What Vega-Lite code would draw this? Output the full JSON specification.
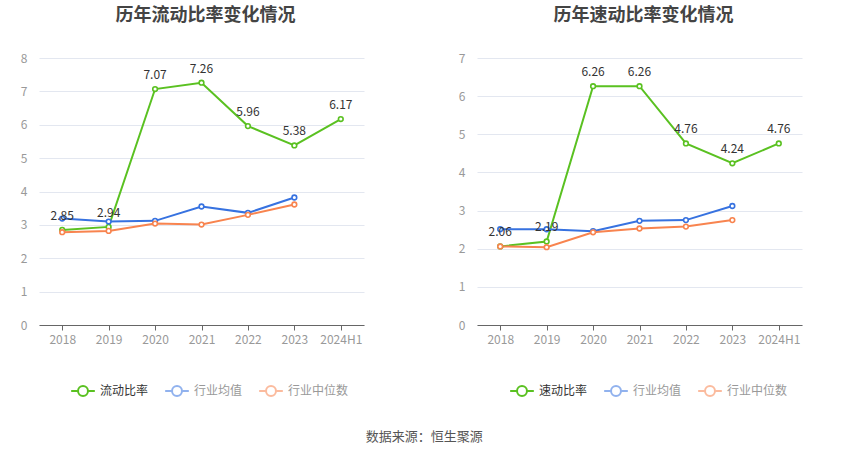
{
  "$schema": "https://vega.github.io/schema/vega-lite/v6.json",
  "description": "Current ratio and quick ratio by year, with industry mean and median.",
  "padding": {"left": 20, "top": 7, "right": 10, "bottom": 6},
  "title": {
    "text": "数据来源：恒生聚源",
    "orient": "bottom",
    "anchor": "middle",
    "fontSize": 13,
    "fontWeight": "normal",
    "color": "#555",
    "offset": 31,
    "dx": 13
  },
  "datasets": {
    "current": [
      {"year": "2018", "series": "流动比率", "value": 2.85},
      {"year": "2019", "series": "流动比率", "value": 2.94},
      {"year": "2020", "series": "流动比率", "value": 7.07},
      {"year": "2021", "series": "流动比率", "value": 7.26},
      {"year": "2022", "series": "流动比率", "value": 5.96},
      {"year": "2023", "series": "流动比率", "value": 5.38},
      {"year": "2024H1", "series": "流动比率", "value": 6.17},
      {"year": "2018", "series": "行业均值", "value": 3.19},
      {"year": "2019", "series": "行业均值", "value": 3.10},
      {"year": "2020", "series": "行业均值", "value": 3.12},
      {"year": "2021", "series": "行业均值", "value": 3.55},
      {"year": "2022", "series": "行业均值", "value": 3.36},
      {"year": "2023", "series": "行业均值", "value": 3.82},
      {"year": "2018", "series": "行业中位数", "value": 2.78},
      {"year": "2019", "series": "行业中位数", "value": 2.82},
      {"year": "2020", "series": "行业中位数", "value": 3.04},
      {"year": "2021", "series": "行业中位数", "value": 3.01},
      {"year": "2022", "series": "行业中位数", "value": 3.30},
      {"year": "2023", "series": "行业中位数", "value": 3.61}
    ],
    "quick": [
      {"year": "2018", "series": "速动比率", "value": 2.06},
      {"year": "2019", "series": "速动比率", "value": 2.19},
      {"year": "2020", "series": "速动比率", "value": 6.26},
      {"year": "2021", "series": "速动比率", "value": 6.26},
      {"year": "2022", "series": "速动比率", "value": 4.76},
      {"year": "2023", "series": "速动比率", "value": 4.24},
      {"year": "2024H1", "series": "速动比率", "value": 4.76},
      {"year": "2018", "series": "行业均值", "value": 2.51},
      {"year": "2019", "series": "行业均值", "value": 2.51},
      {"year": "2020", "series": "行业均值", "value": 2.46},
      {"year": "2021", "series": "行业均值", "value": 2.73},
      {"year": "2022", "series": "行业均值", "value": 2.75},
      {"year": "2023", "series": "行业均值", "value": 3.12},
      {"year": "2018", "series": "行业中位数", "value": 2.06},
      {"year": "2019", "series": "行业中位数", "value": 2.04},
      {"year": "2020", "series": "行业中位数", "value": 2.43},
      {"year": "2021", "series": "行业中位数", "value": 2.53},
      {"year": "2022", "series": "行业中位数", "value": 2.58},
      {"year": "2023", "series": "行业中位数", "value": 2.75}
    ]
  },
  "hconcat": [
    {
      "title": "历年流动比率变化情况",
      "width": 325,
      "height": 267,
      "data": {"name": "current"},
      "encoding": {
        "x": {"field": "year", "type": "ordinal", "scale": {"type": "point", "padding": 0.5}, "title": null},
        "y": {"field": "value", "type": "quantitative", "scale": {"domain": [0, 8]}, "axis": {"values": [0, 1, 2, 3, 4, 5, 6, 7, 8]}, "title": null}
      },
      "layer": [
        {
          "mark": {"type": "line", "strokeWidth": 2, "point": {"filled": false, "fill": "white", "size": 22, "strokeWidth": 1.6}},
          "encoding": {
            "color": {
              "field": "series",
              "type": "nominal",
              "sort": ["流动比率", "行业均值", "行业中位数"],
              "scale": {"domain": ["流动比率", "行业均值", "行业中位数"], "range": ["#5ac121", "#3772e0", "#f8844f"]},
              "legend": {
                "orient": "none",
                "legendX": 31,
                "legendY": 320,
                "direction": "horizontal",
                "title": null,
                "encode": {
                  "labels": {"update": {"fill": {"signal": "datum.value == '流动比率' ? '#333' : '#999'"}}},
                  "symbols": {"update": {"strokeOpacity": {"signal": "datum.value == '流动比率' ? 1 : 0.55"}}}
                }
              }
            }
          }
        },
        {
          "transform": [{"filter": "datum.series == '流动比率'"}],
          "mark": {"type": "text", "dy": -14, "fontSize": 12, "color": "#333"},
          "encoding": {"text": {"field": "value", "type": "quantitative", "format": ".2f"}}
        }
      ]
    },
    {
      "title": "历年速动比率变化情况",
      "width": 325,
      "height": 267,
      "data": {"name": "quick"},
      "encoding": {
        "x": {"field": "year", "type": "ordinal", "scale": {"type": "point", "padding": 0.5}, "title": null},
        "y": {"field": "value", "type": "quantitative", "scale": {"domain": [0, 7]}, "axis": {"values": [0, 1, 2, 3, 4, 5, 6, 7]}, "title": null}
      },
      "layer": [
        {
          "mark": {"type": "line", "strokeWidth": 2, "point": {"filled": false, "fill": "white", "size": 22, "strokeWidth": 1.6}},
          "encoding": {
            "color": {
              "field": "series",
              "type": "nominal",
              "sort": ["速动比率", "行业均值", "行业中位数"],
              "scale": {"domain": ["速动比率", "行业均值", "行业中位数"], "range": ["#5ac121", "#3772e0", "#f8844f"]},
              "legend": {
                "orient": "none",
                "legendX": 32,
                "legendY": 320,
                "direction": "horizontal",
                "title": null,
                "encode": {
                  "labels": {"update": {"fill": {"signal": "datum.value == '速动比率' ? '#333' : '#999'"}}},
                  "symbols": {"update": {"strokeOpacity": {"signal": "datum.value == '速动比率' ? 1 : 0.55"}}}
                }
              }
            }
          }
        },
        {
          "transform": [{"filter": "datum.series == '速动比率'"}],
          "mark": {"type": "text", "dy": -14, "fontSize": 12, "color": "#333"},
          "encoding": {"text": {"field": "value", "type": "quantitative", "format": ".2f"}}
        }
      ]
    }
  ],
  "resolve": {"scale": {"color": "independent", "x": "independent", "y": "independent"}, "legend": {"color": "independent"}},
  "spacing": 94,
  "config": {
    "font": "Noto Sans CJK SC",
    "view": {"stroke": null},
    "title": {"fontSize": 18, "fontWeight": "bold", "color": "#444", "anchor": "middle", "offset": 27, "dx": 4},
    "axisY": {
      "grid": true,
      "gridColor": "#e3e7f0",
      "domain": false,
      "ticks": false,
      "labelColor": "#999",
      "labelFontSize": 12,
      "labelPadding": 12
    },
    "axisX": {
      "grid": false,
      "domainColor": "#666",
      "tickColor": "#666",
      "tickSize": 5,
      "labelAngle": 0,
      "labelColor": "#999",
      "labelFontSize": 12,
      "labelPadding": 4
    },
    "legend": {
      "symbolType": "M-1,0H-0.42M0.42,0H1M-0.42,0A0.42,0.42 0 1,1 0.42,0A0.42,0.42 0 1,1 -0.42,0",
      "symbolSize": 560,
      "symbolStrokeWidth": 2,
      "symbolFillColor": "white",
      "labelFontSize": 12,
      "labelColor": "#999",
      "columnPadding": 12,
      "labelOffset": 4
    }
  }
}
